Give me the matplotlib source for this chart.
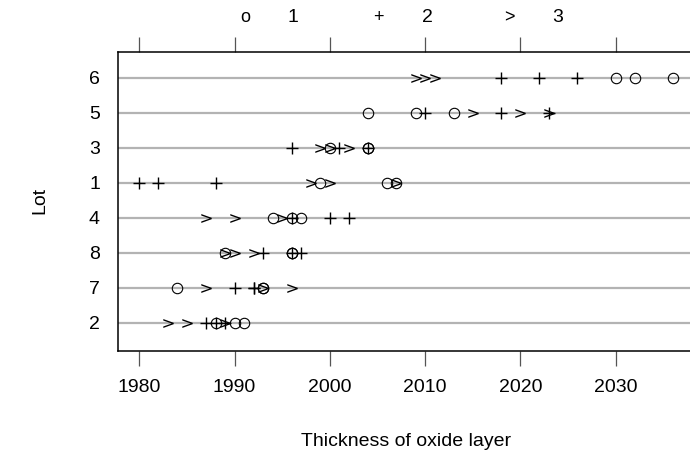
import matplotlib
matplotlib.use("Agg")
from matplotlib import pyplot as plt

plt.rcParams['font.family'] = ['Liberation Sans', 'DejaVu Sans']

# lots from bottom to top of the plot
lots = ["2", "7", "8", "4", "1", "3", "5", "6"]
wafers = ["1", "2", "3"]

# thickness readings per lot (same order as lots), one list per wafer
wafer1 = [[1988, 1990, 1991], [1984, 1993, 1993], [1989, 1996, 1996],
          [1994, 1996, 1997], [1999, 2006, 2007], [2000, 2004, 2004],
          [2004, 2009, 2013], [2030, 2032, 2036]]
wafer2 = [[1987, 1988, 1989], [1990, 1992, 1992], [1993, 1996, 1997],
          [1996, 2000, 2002], [1980, 1982, 1988], [1996, 2001, 2004],
          [2010, 2018, 2023], [2018, 2022, 2026]]
wafer3 = [[1983, 1985, 1989], [1987, 1993, 1996], [1989, 1990, 1992],
          [1987, 1990, 1995], [1998, 2000, 2007], [1999, 2000, 2002],
          [2015, 2020, 2023], [2009, 2010, 2011]]

x_ticks = [1980, 1990, 2000, 2010, 2020, 2030]

W, H = 690, 461
fig = plt.figure(figsize=(W / 100, H / 100), dpi=100)
ax = fig.add_axes([118 / W, (H - 351) / H, (694 - 118) / W, (351 - 52) / H])

ypos = list(range(1, len(lots) + 1))
for y in ypos:
    ax.axhline(y, color="#b3b3b3", lw=1.6, zorder=1)

styles = [
    dict(marker="o", markerfacecolor="none", markeredgecolor="black",
         markersize=7.5, markeredgewidth=0.8),
    dict(marker="+", color="black", markersize=8, markeredgewidth=1.0),
    dict(marker=r"$>$", color="black", markersize=7.5, markeredgewidth=0),
]
for data, st in zip([wafer1, wafer2, wafer3], styles):
    for y, vals in zip(ypos, data):
        ax.plot(vals, [y] * len(vals), linestyle="none", zorder=3, **st)

ax.set_xlim(1977.76, 2038.24)
ax.set_ylim(0.2, 8.74)
ax.set_xticks(x_ticks)
ax.set_yticks(ypos)
ax.set_yticklabels(lots)
ax.tick_params(axis="x", which="both", top=True, bottom=True, direction="out",
               length=11, width=0.9, color="#555555", labelsize=14, pad=9)
ax.tick_params(axis="y", length=0, labelsize=14, pad=13)
for s in ax.spines.values():
    s.set_linewidth(1.1)
ax.spines["right"].set_visible(False)

ax.set_xlabel("Thickness of oxide layer", fontsize=14, labelpad=27)
fig.text(40 / W, 1 - 200 / H, "Lot", rotation=90, fontsize=14,
         ha="center", va="center")

# legend across the top
sym_x = [245, 378, 509]
lab_x = [293, 427, 558]
syms = ["o", "+", ">"]
for sx, lx, sym, w in zip(sym_x, lab_x, syms, wafers):
    fig.text(sx / W, 1 - 18 / H, sym, fontsize=13, ha="center", va="center")
    fig.text(lx / W, 1 - 18 / H, w, fontsize=14, ha="center", va="center")

fig.savefig("out.png", dpi=100)
plt.close(fig)
